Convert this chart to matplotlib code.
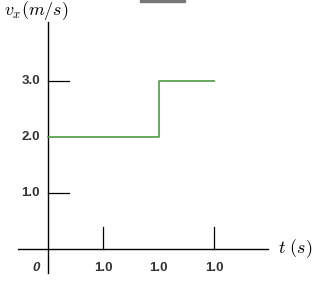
import numpy as np
import matplotlib
matplotlib.use("Agg")
import matplotlib.pyplot as plt

plt.rcParams['mathtext.fontset'] = 'cm'

# step function data
t = [0, 2, 2, 3]
v = [2, 2, 3, 3]
yticks = [1.0, 2.0, 3.0]
xticks = [1, 2, 3]
xticklabels = ["1.0", "1.0", "1.0"]
xtickmarks = [1, 3]

fig = plt.figure(figsize=(3.2, 2.94), dpi=100)
ax = fig.add_axes([0, 0, 1, 1])
px = 55.3
py = 56.0
ax.set_xlim(-48 / px, 272 / px)
ax.set_ylim(-45 / py, 249 / py)
ax.axis("off")

# axes lines
ax.plot([0, 0], [-24 / py, 227 / py], color="black", lw=1.0)
ax.plot([-30 / px, 220 / px], [0, 0], color="black", lw=1.0)

lab_kw = dict(fontsize=9.5, fontweight="bold", family="Liberation Sans", color="#333333")
for yt in yticks:
    if yt != 2.0:  # covered by the green line anyway
        ax.plot([0, 21 / px], [yt, yt], color="black", lw=0.9)
    ax.text(-8 / px, yt, "%.1f" % yt, ha="right", va="center", **lab_kw)
for xt in xtickmarks:
    ax.plot([xt, xt], [0, 22 / py], color="black", lw=0.9)
for xt, lab in zip(xticks, xticklabels):
    ax.text(xt, -19 / py, lab, ha="center", va="center", **lab_kw)

ax.text(-12 / px, -19 / py, "0", ha="center", va="center", style="italic", **lab_kw)

ax.plot(t, v, color="#4f9a45", lw=1.2, zorder=5)

ax.text(230 / px, 0, r"$t\ (s)$", ha="left", va="center", fontsize=13)
ax.text(-44 / px, 239 / py, r"$v_x(m/s)$", ha="left", va="center", fontsize=13)

# small grey bar at top edge
fig.patches.append(plt.Rectangle((140 / 320, 1 - 1.5 / 294), 45 / 320, 1.5 / 294,
                                 transform=fig.transFigure, color="#777777"))

plt.savefig("out.png", dpi=100)
